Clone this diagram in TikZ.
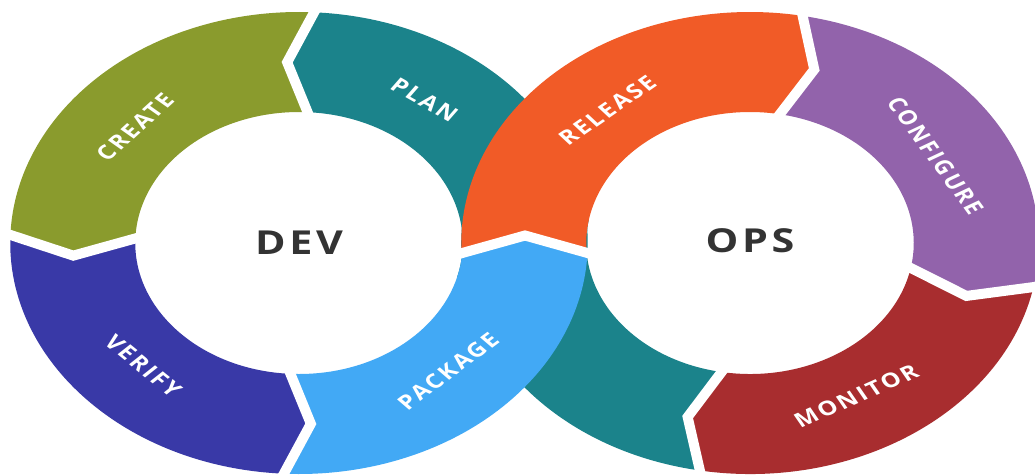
\documentclass[tikz,border=0pt]{standalone}
\usepackage{fontspec}
\setmainfont{Open Sans}
\newfontfamily\lblfont[LetterSpace=10]{Open Sans}
\newfontfamily\bigfont[LetterSpace=9]{Open Sans}
\definecolor{cCreate}{HTML}{8A9B2D}
\definecolor{cPlan}{HTML}{1B838B}
\definecolor{cVerify}{HTML}{3939A7}
\definecolor{cPackage}{HTML}{42A9F5}
\definecolor{cRelease}{HTML}{F15B27}
\definecolor{cConfigure}{HTML}{9263AB}
\definecolor{cMonitor}{HTML}{A82D2F}
\definecolor{cText}{HTML}{333333}
% #1 colour, #2 start boundary angle, #3 end boundary angle, #4 signed tip offset
\newcommand{\ringseg}[4]{%
  \fill[#1] (#2:231) -- ({#2+(#4)}:181) -- (#2:131)
    arc[start angle=#2, end angle=#3, radius=131]
    -- ({#3+(#4)}:181) -- (#3:231)
    arc[start angle=#3, end angle=#2, radius=231] -- cycle;}
% white gap along a chevron boundary
\newcommand{\gapline}[2]{%
  \draw[gap] (#1:231) -- ({#1+(#2)}:181) -- (#1:131);}
\begin{document}
\begin{tikzpicture}[x=1pt,y=1pt,
  lbl/.style={text=white, font=\lblfont\bfseries\fontsize{20}{20}\selectfont, transform shape, inner sep=0pt},
  big/.style={text=cText, font=\bigfont\bfseries\fontsize{33}{33}\selectfont, transform shape, inner sep=0pt},
  gap/.style={white, line width=10pt, shorten <=-6pt, shorten >=-6pt}]
\clip (0,0) rectangle (1035,475);
\fill[white] (0,0) rectangle (1035,475);

% teal PLAN, upper part on the DEV ring
\begin{scope}[shift={(299,232)}, xscale=1.25]
  \fill[cPlan] (-15:231) -- (-15:131)
    arc[start angle=-15, end angle=87, radius=131]
    -- (93:181) -- (87:231)
    arc[start angle=87, end angle=-15, radius=231] -- cycle;
\end{scope}
% teal PLAN, lower part on the OPS ring
\begin{scope}[shift={(750,232)}, xscale=1.25]
  \fill[cPlan] (-100:231) -- (-106.5:181) -- (-100:131)
    arc[start angle=-100, end angle=-190, radius=131]
    -- (-190:231)
    arc[start angle=-190, end angle=-100, radius=231] -- cycle;
\end{scope}

% DEV ring
\begin{scope}[shift={(299,232)}, xscale=1.25]
  \fill[cPackage] (-93:231) -- (-87:181) -- (-93:131)
    arc[start angle=-93, end angle=-4.378, radius=131]
    -- (180.8,7.5) -- (-2.481:231)
    arc[start angle=-2.481, end angle=-93, radius=231] -- cycle;
\end{scope}
\begin{scope}[shift={(750,232)}, xscale=1.25]
  \fill[cRelease] (182.481:231) -- (-180,7.5) -- (184.378:131)
    arc[start angle=184.378, end angle=79.5, radius=131]
    -- (73.5:181) -- (79.5:231)
    arc[start angle=79.5, end angle=182.481, radius=231] -- cycle;
  \ringseg{cConfigure}{79.5}{-11}{-6}
  \ringseg{cMonitor}{-11}{-100}{-6}
  \gapline{79.5}{-6}
  \gapline{-11}{-6}
  \gapline{-100}{-6}
\end{scope}
\begin{scope}[shift={(299,232)}, xscale=1.25]
  \ringseg{cCreate}{87}{178}{6}
  \ringseg{cVerify}{178}{267}{6}
  \gapline{87}{6}
  \gapline{178}{6}
  \gapline{-93}{6}
  \draw[gap] (-4.378:131) -- (180.8,7.5) -- (-2.481:231);

  \node[lbl, rotate=-35] (plan) at (55:175) {PLAN};
  \node[lbl, rotate=48.6] (create) at (138.6:175) {CREATE};
  \node[lbl, rotate=-45.4] (verify) at (224.6:175) {VERIFY};
  \node[lbl, rotate=43] (package) at (-47:175) {PACKAGE};
  \node[big] (dev) at (0,0) {DEV};
\end{scope}
\begin{scope}[shift={(750,232)}, xscale=1.25]
  \node[lbl, rotate=40.7] (release) at (130.7:175) {RELEASE};
  \node[lbl, rotate=-59.6] (configure) at (30.4:172) {CONFIGURE};
  \node[lbl, rotate=29] (monitor) at (-61:175) {MONITOR};
  \node[big] (ops) at (0,2) {OPS};
\end{scope}
\end{tikzpicture}
\end{document}
